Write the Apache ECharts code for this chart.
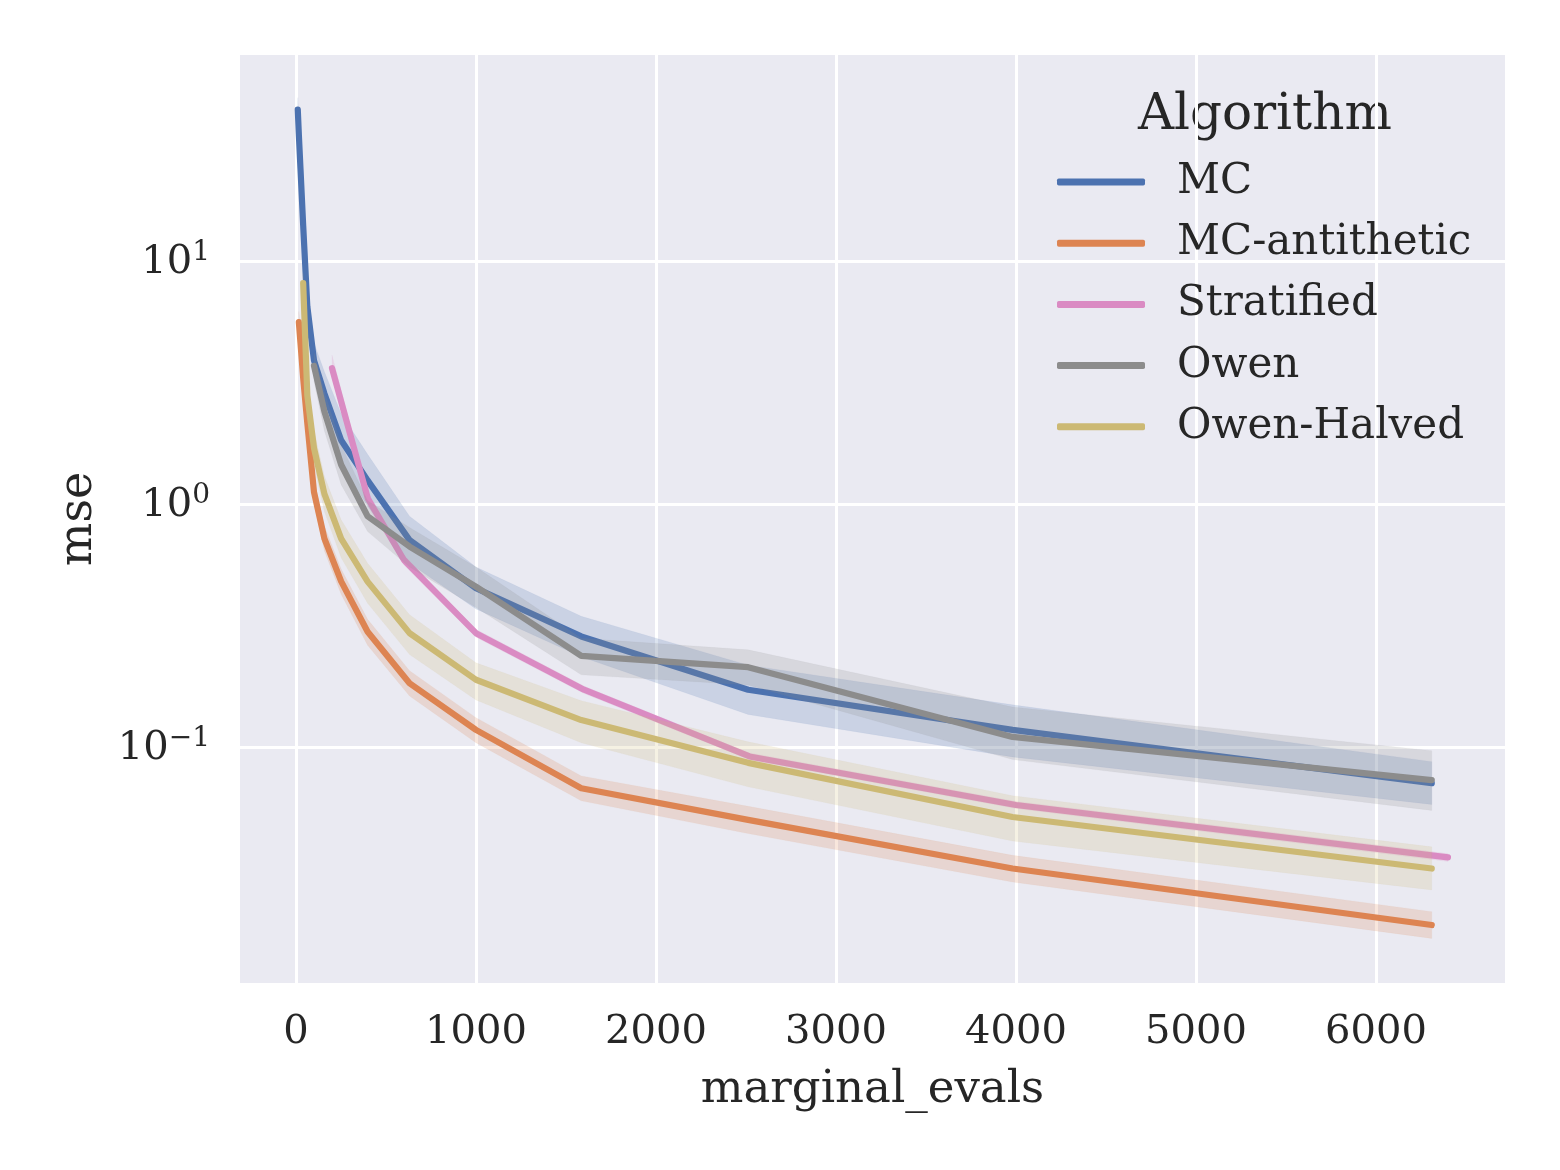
<!DOCTYPE html>
<html>
<head>
<meta charset="utf-8">
<title>mse vs marginal_evals</title>
<script src="https://cdn.jsdelivr.net/npm/echarts@6/dist/echarts.min.js"></script>
<style>
  html, body { margin: 0; padding: 0; background: #fff; }
  #main { width: 1560px; height: 1170px; }
</style>
</head>
<body>
<div id="main"></div>
<script>
// series data
var mcX = [10, 16, 25, 40, 63, 100, 158, 251, 398, 631, 1000, 1585, 2512, 3981, 6310];
var mcY = [42, 33, 24, 14, 6.5, 3.9, 2.85, 1.83, 1.25, 0.71, 0.45, 0.285, 0.172, 0.1176, 0.0709];
var mcLo = [37, 28, 20, 11.5, 5.4, 3.3, 2.3, 1.45, 0.98, 0.57, 0.37, 0.235, 0.136, 0.091, 0.058];
var mcHi = [47, 38, 28, 16.5, 7.8, 4.6, 3.5, 2.35, 1.6, 0.89, 0.55, 0.345, 0.217, 0.149, 0.087];

var antiX = [16, 25, 40, 63, 100, 158, 251, 398, 631, 1000, 1585, 2512, 3981, 6310];
var antiY = [5.6, 4.6, 3.3, 2.15, 1.12, 0.72, 0.48, 0.298, 0.183, 0.1176, 0.0676, 0.0501, 0.0316, 0.0185];
var antiLo = [5.0, 4.1, 2.9, 1.9, 1.0, 0.64, 0.425, 0.262, 0.162, 0.104, 0.06, 0.044, 0.0278, 0.0163];
var antiHi = [6.2, 5.2, 3.7, 2.4, 1.26, 0.81, 0.54, 0.335, 0.206, 0.132, 0.076, 0.057, 0.0358, 0.021];

var stratX = [200, 400, 600, 1000, 1600, 2520, 4000, 6400];
var stratY = [3.62, 1.05, 0.588, 0.294, 0.172, 0.0914, 0.0577, 0.0351];
var stratLo = [3.3, 0.98, 0.56, 0.283, 0.166, 0.0885, 0.0558, 0.0338];
var stratHi = [4.1, 1.12, 0.615, 0.305, 0.178, 0.0945, 0.0597, 0.0364];

var owenX = [100, 158, 251, 398, 631, 1000, 1585, 2512, 3981, 6310];
var owenY = [3.7, 2.4, 1.45, 0.89, 0.668, 0.457, 0.237, 0.213, 0.110, 0.073];
var owenLo = [3.2, 2.0, 1.2, 0.77, 0.55, 0.375, 0.198, 0.18, 0.0887, 0.0548];
var owenHi = [4.2, 2.9, 1.75, 1.03, 0.8, 0.55, 0.28, 0.251, 0.146, 0.0965];

var halfX = [40, 63, 100, 158, 251, 398, 631, 1000, 1585, 2512, 3981, 6310];
var halfY = [8.1, 2.8, 1.7, 1.1, 0.72, 0.479, 0.294, 0.189, 0.129, 0.086, 0.0515, 0.0316];
var halfLo = [7.3, 2.4, 1.45, 0.93, 0.6, 0.39, 0.24, 0.156, 0.104, 0.0685, 0.041, 0.0258];
var halfHi = [8.9, 3.2, 2.0, 1.3, 0.86, 0.57, 0.35, 0.222, 0.155, 0.105, 0.063, 0.0388];

var algoNames = ['MC', 'MC-antithetic', 'Stratified', 'Owen', 'Owen-Halved'];
var algoColors = ['#4C72B0', '#DD8452', '#DA8BC3', '#8C8C8C', '#CCB974'];

var FONT = 'DejaVu Serif';
var TXT = '#262626';

function pairs(xs, ys) {
  return xs.map(function (x, i) { return [x, ys[i]]; });
}

// confidence band as one polygon
function bandSeries(xs, lo, hi, color, z) {
  return {
    type: 'custom',
    silent: true,
    z: z,
    data: [[xs[0], hi[0]]],
    renderItem: function (params, api) {
      var pts = [];
      for (var i = 0; i < xs.length; i++) pts.push(api.coord([xs[i], hi[i]]));
      for (var j = xs.length - 1; j >= 0; j--) pts.push(api.coord([xs[j], lo[j]]));
      return {
        type: 'polygon',
        shape: { points: pts },
        style: { fill: color, opacity: 0.2, stroke: color, lineWidth: 1, strokeOpacity: 0.25 }
      };
    }
  };
}

function lineSeries(name, xs, ys, color, z) {
  return {
    type: 'line',
    name: name,
    z: z,
    data: pairs(xs, ys),
    showSymbol: false,
    symbol: 'none',
    color: color,
    lineStyle: { width: 6.2, color: color, cap: 'round', join: 'round' },
    silent: true,
    animation: false
  };
}

var allData = [
  [mcX, mcY, mcLo, mcHi],
  [antiX, antiY, antiLo, antiHi],
  [stratX, stratY, stratLo, stratHi],
  [owenX, owenY, owenLo, owenHi],
  [halfX, halfY, halfLo, halfHi]
];

var series = [];
allData.forEach(function (d, i) {
  series.push(bandSeries(d[0], d[2], d[3], algoColors[i], 2 + i * 2));
  series.push(lineSeries(algoNames[i], d[0], d[1], algoColors[i], 3 + i * 2));
});

var myChart = echarts.init(document.getElementById('main'), null, { renderer: 'canvas' });
myChart.setOption({
  animation: false,
  backgroundColor: '#ffffff',
  grid: {
    show: true,
    left: 240,
    right: 55,
    top: 55,
    bottom: 187,
    backgroundColor: '#EAEAF2',
    borderWidth: 0
  },
  xAxis: {
    type: 'value',
    min: -311,
    max: 6717,
    splitNumber: 7,
    name: 'marginal_evals',
    nameLocation: 'middle',
    nameGap: 85,
    nameTextStyle: { fontFamily: FONT, fontSize: 45, color: TXT },
    axisLine: { show: false },
    axisTick: { show: false },
    axisLabel: {
      fontFamily: FONT, fontSize: 40, color: TXT, margin: 30,
      showMinLabel: false, showMaxLabel: false,
      formatter: function (v) { return String(v); }
    },
    splitLine: {
      show: true, showMinLine: false, showMaxLine: false,
      lineStyle: { color: '#ffffff', width: 3 }
    }
  },
  yAxis: {
    type: 'log',
    logBase: 10,
    min: 0.01068,
    max: 70.4,
    name: 'mse',
    nameLocation: 'middle',
    nameGap: 138,
    nameTextStyle: { fontFamily: FONT, fontSize: 46, color: TXT },
    axisLine: { show: false },
    axisTick: { show: false },
    axisLabel: {
      margin: 30,
      showMinLabel: false, showMaxLabel: false,
      formatter: function (v) {
        var e = Math.round(Math.log10(v));
        return '{b|10}{s|' + String(e).replace('-', '\u2212') + '}';
      },
      rich: {
        b: { fontFamily: FONT, fontSize: 40, color: TXT, lineHeight: 44, verticalAlign: 'bottom' },
        s: { fontFamily: FONT, fontSize: 28, color: TXT, lineHeight: 28, verticalAlign: 'top' }
      }
    },
    splitLine: {
      show: true, showMinLine: false, showMaxLine: false,
      lineStyle: { color: '#ffffff', width: 3 }
    }
  },
  legend: {
    data: algoNames,
    orient: 'vertical',
    left: 1057,
    top: 161,
    padding: 0,
    icon: 'roundRect',
    itemWidth: 88,
    itemHeight: 7,
    itemGap: 19.2,
    textStyle: { fontFamily: FONT, fontSize: 42, color: TXT, lineHeight: 40, padding: [0, 0, 0, 27] }
  },
  graphic: [{
    type: 'text',
    left: 1138,
    top: 91,
    style: { text: 'Algorithm', font: '50px "DejaVu Serif"', fill: TXT }
  }],
  series: series
});
</script>
</body>
</html>
